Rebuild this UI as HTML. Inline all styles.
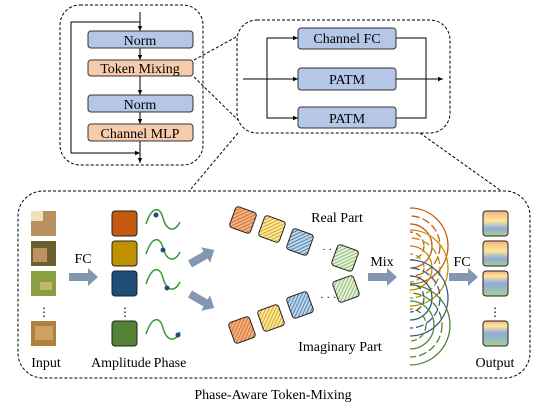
<!DOCTYPE html>
<html><head><meta charset="utf-8"><style>
html,body{margin:0;padding:0;background:#fff;}
svg{display:block;}
text{font-family:"Liberation Serif","Times New Roman",serif;}
</style></head><body>
<svg width="546" height="410" viewBox="0 0 546 410" xmlns="http://www.w3.org/2000/svg" font-family="Liberation Serif, serif">
<defs>
<marker id="ah" markerWidth="6" markerHeight="6" refX="5" refY="3" orient="auto" markerUnits="userSpaceOnUse"><path d="M0,0.8 L5,3 L0,5.2z" fill="#000"/></marker>
<pattern id="hO" width="3" height="3" patternUnits="userSpaceOnUse" patternTransform="rotate(45)"><rect width="3" height="3" fill="#f4b183"/><line x1="0" y1="0" x2="0" y2="3" stroke="#c55a11" stroke-width="1.4"/></pattern>
<pattern id="hY" width="3" height="3" patternUnits="userSpaceOnUse" patternTransform="rotate(45)"><rect width="3" height="3" fill="#ffe699"/><line x1="0" y1="0" x2="0" y2="3" stroke="#bf9000" stroke-width="1.4"/></pattern>
<pattern id="hB" width="3" height="3" patternUnits="userSpaceOnUse" patternTransform="rotate(45)"><rect width="3" height="3" fill="#bdd7ee"/><line x1="0" y1="0" x2="0" y2="3" stroke="#2e5c8a" stroke-width="1.4"/></pattern>
<pattern id="hG" width="3" height="3" patternUnits="userSpaceOnUse" patternTransform="rotate(45)"><rect width="3" height="3" fill="#e2f0d9"/><line x1="0" y1="0" x2="0" y2="3" stroke="#70ad47" stroke-width="1.4"/></pattern>
<linearGradient id="g1" x1="0" y1="0" x2="0" y2="1"><stop offset="0" stop-color="#f4b183"/><stop offset="0.4" stop-color="#ffe699"/><stop offset="0.7" stop-color="#8faadc"/><stop offset="1" stop-color="#a9d18e"/></linearGradient>
<linearGradient id="g2" x1="0" y1="0" x2="0" y2="1"><stop offset="0" stop-color="#f4b183"/><stop offset="0.2" stop-color="#ffe699"/><stop offset="0.5" stop-color="#8faadc"/><stop offset="1" stop-color="#a9d18e"/></linearGradient>
<clipPath id="arcclip"><rect x="410" y="200" width="60" height="170"/></clipPath>
</defs>

<rect x="60" y="5" width="143" height="160" rx="20" fill="none" stroke="#000" stroke-dasharray="3,2"/>
<line x1="140" y1="12" x2="140" y2="31" stroke="#000" marker-end="url(#ah)"/>
<polyline points="140,22 71,22 71,153 140,153" fill="none" stroke="#000" marker-end="url(#ah)"/>
<line x1="140" y1="48" x2="140" y2="60" stroke="#000" marker-end="url(#ah)"/>
<line x1="140" y1="76" x2="140" y2="95" stroke="#000" marker-end="url(#ah)"/>
<line x1="140" y1="112" x2="140" y2="124" stroke="#000" marker-end="url(#ah)"/>
<line x1="140" y1="141" x2="140" y2="163" stroke="#000" marker-end="url(#ah)"/>
<rect x="88" y="31" width="105" height="17" rx="3" fill="#b4c7e7" stroke="#333"/>
<rect x="88" y="60" width="105" height="16" rx="3" fill="#f8cbad" stroke="#333"/>
<rect x="88" y="95" width="105" height="17" rx="3" fill="#b4c7e7" stroke="#333"/>
<rect x="88" y="124" width="105" height="17" rx="3" fill="#f8cbad" stroke="#333"/>
<g font-size="14" text-anchor="middle" fill="#000">
<text x="140" y="45">Norm</text>
<text x="140" y="73">Token Mixing</text>
<text x="140" y="109">Norm</text>
<text x="140" y="138">Channel MLP</text>
</g>
<line x1="194" y1="60" x2="238" y2="36" stroke="#000" stroke-dasharray="3,2"/>
<line x1="194" y1="77" x2="238" y2="120" stroke="#000" stroke-dasharray="3,2"/>

<rect x="237" y="20" width="213" height="113" rx="20" fill="none" stroke="#000" stroke-dasharray="3,2"/>
<line x1="243" y1="79" x2="298" y2="79" stroke="#000" marker-end="url(#ah)"/>
<polyline points="267,79 267,38 298,38" fill="none" stroke="#000" marker-end="url(#ah)"/>
<polyline points="267,79 267,118 298,118" fill="none" stroke="#000" marker-end="url(#ah)"/>
<polyline points="396,38 426,38 426,79" fill="none" stroke="#000"/>
<polyline points="396,118 426,118 426,79" fill="none" stroke="#000"/>
<line x1="396" y1="79" x2="443" y2="79" stroke="#000" marker-end="url(#ah)"/>
<rect x="298" y="28" width="98" height="21" rx="3" fill="#b4c7e7" stroke="#333"/>
<rect x="298" y="68" width="98" height="22" rx="3" fill="#b4c7e7" stroke="#333"/>
<rect x="298" y="107" width="98" height="21" rx="3" fill="#b4c7e7" stroke="#333"/>
<g font-size="14" text-anchor="middle">
<text x="347" y="43">Channel FC</text>
<text x="347" y="84">PATM</text>
<text x="347" y="123">PATM</text>
</g>
<line x1="238" y1="133" x2="190" y2="190" stroke="#000" stroke-dasharray="3,2"/>
<line x1="420" y1="133" x2="500" y2="190" stroke="#000" stroke-dasharray="3,2"/>

<rect x="18" y="191" width="512" height="187" rx="25" fill="none" stroke="#000" stroke-dasharray="3,2"/>

<rect x="31" y="211" width="25" height="25" fill="#b89060"/><rect x="31" y="211" width="12" height="10" fill="#f0e0c0"/>
<rect x="31" y="241" width="25" height="25" fill="#6a6030"/><rect x="33" y="248" width="14" height="14" fill="#c09060"/>
<rect x="31" y="271" width="25" height="25" fill="#8aa040"/><rect x="40" y="282" width="12" height="8" fill="#c8b070"/>
<rect x="31" y="321" width="25" height="25" fill="#b08040"/><rect x="35" y="326" width="18" height="14" fill="#d0a060"/>
<text x="44" y="316" font-size="12" text-anchor="middle">⋮</text>

<polygon points="69,273 88,273 88,268 98,277 88,286 88,281 69,281" fill="#8497b0"/>
<text x="83" y="263" font-size="14" text-anchor="middle">FC</text>

<rect x="112" y="211" width="25" height="25" rx="3" fill="#c55a11" stroke="#222"/>
<rect x="112" y="241" width="25" height="25" rx="3" fill="#bf9000" stroke="#222"/>
<rect x="112" y="271" width="25" height="25" rx="3" fill="#1f4e79" stroke="#222"/>
<rect x="112" y="321" width="25" height="25" rx="3" fill="#548235" stroke="#222"/>
<text x="125" y="316" font-size="12" text-anchor="middle">⋮</text>

<g fill="none" stroke="#3a9a3a" stroke-width="1.5">
<path d="M146,224 C152,206 160,206 163,218 C167,232 175,232 180,222"/>
<path d="M146,254 C152,236 160,236 163,248 C167,262 175,262 180,252"/>
<path d="M146,284 C152,266 160,266 163,278 C167,292 175,292 180,282"/>
<path d="M146,334 C152,316 160,316 163,328 C167,342 175,342 180,332"/>
</g>
<g fill="#1f4e79">
<circle cx="156" cy="215" r="2.5"/><circle cx="163" cy="250" r="2.5"/><circle cx="167" cy="288" r="2.5"/><circle cx="178" cy="335" r="2.5"/>
</g>

<g fill="#8497b0">
<polygon points="0,-4 18,-4 18,-9 28,0 18,9 18,4 0,4" transform="translate(190,264) rotate(-30)"/>
<polygon points="0,-4 18,-4 18,-9 28,0 18,9 18,4 0,4" transform="translate(190,294) rotate(30)"/>
</g>

<g stroke="#222" stroke-width="1">
<rect x="-11" y="-11" width="22" height="22" rx="3" fill="url(#hO)" transform="translate(243,220) rotate(20)"/>
<rect x="-11" y="-11" width="22" height="22" rx="3" fill="url(#hY)" transform="translate(272,229) rotate(20)"/>
<rect x="-11" y="-11" width="22" height="22" rx="3" fill="url(#hB)" transform="translate(300,242) rotate(20)"/>
<rect x="-11" y="-11" width="22" height="22" rx="3" fill="url(#hG)" transform="translate(345,258) rotate(20)"/>
<rect x="-11" y="-11" width="22" height="22" rx="3" fill="url(#hO)" transform="translate(242,330) rotate(-20)"/>
<rect x="-11" y="-11" width="22" height="22" rx="3" fill="url(#hY)" transform="translate(271,318) rotate(-20)"/>
<rect x="-11" y="-11" width="22" height="22" rx="3" fill="url(#hB)" transform="translate(300,305) rotate(-20)"/>
<rect x="-11" y="-11" width="22" height="22" rx="3" fill="url(#hG)" transform="translate(346,289) rotate(-20)"/>
</g>
<text x="322" y="253" font-size="11">· · ·</text>
<text x="320" y="301" font-size="11">· · ·</text>
<text x="337" y="222" font-size="14" text-anchor="middle">Real Part</text>
<text x="340" y="351" font-size="14" text-anchor="middle">Imaginary Part</text>

<polygon points="368,273 387,273 387,268 397,277 387,286 387,281 368,281" fill="#8497b0"/>
<text x="382" y="266" font-size="14" text-anchor="middle">Mix</text>

<g fill="none" stroke-width="1.3" clip-path="url(#arcclip)">
<g stroke="#c55a11"><circle cx="410" cy="246" r="38"/><circle cx="410" cy="246" r="30" stroke-dasharray="8,3"/><circle cx="410" cy="246" r="22"/><circle cx="410" cy="246" r="14" stroke-dasharray="6,3"/></g>
<g stroke="#bf9000"><circle cx="410" cy="268" r="38"/><circle cx="410" cy="268" r="30" stroke-dasharray="8,3"/><circle cx="410" cy="268" r="22"/><circle cx="410" cy="268" r="14" stroke-dasharray="6,3"/></g>
<g stroke="#2e5c8a"><circle cx="410" cy="298" r="38"/><circle cx="410" cy="298" r="30" stroke-dasharray="8,3"/><circle cx="410" cy="298" r="22"/><circle cx="410" cy="298" r="14" stroke-dasharray="6,3"/></g>
<g stroke="#548235"><circle cx="410" cy="325" r="40"/><circle cx="410" cy="325" r="32" stroke-dasharray="8,3"/><circle cx="410" cy="325" r="24"/><circle cx="410" cy="325" r="16" stroke-dasharray="6,3"/></g>
</g>

<polygon points="449,273 468,273 468,268 478,277 468,286 468,281 449,281" fill="#8497b0"/>
<text x="462" y="266" font-size="14" text-anchor="middle">FC</text>

<rect x="483" y="211" width="25" height="25" rx="3" fill="url(#g1)" stroke="#222"/>
<rect x="483" y="241" width="25" height="25" rx="3" fill="url(#g1)" stroke="#222"/>
<rect x="483" y="271" width="25" height="25" rx="3" fill="url(#g2)" stroke="#222"/>
<rect x="483" y="321" width="25" height="25" rx="3" fill="url(#g2)" stroke="#222"/>
<text x="495" y="316" font-size="12" text-anchor="middle">⋮</text>

<g font-size="14" text-anchor="middle">
<text x="46" y="367">Input</text>
<text x="121" y="367">Amplitude</text>
<text x="170" y="367">Phase</text>
<text x="495" y="367">Output</text>
<text x="273" y="399">Phase-Aware Token-Mixing</text>
</g>
</svg>
</body></html>
